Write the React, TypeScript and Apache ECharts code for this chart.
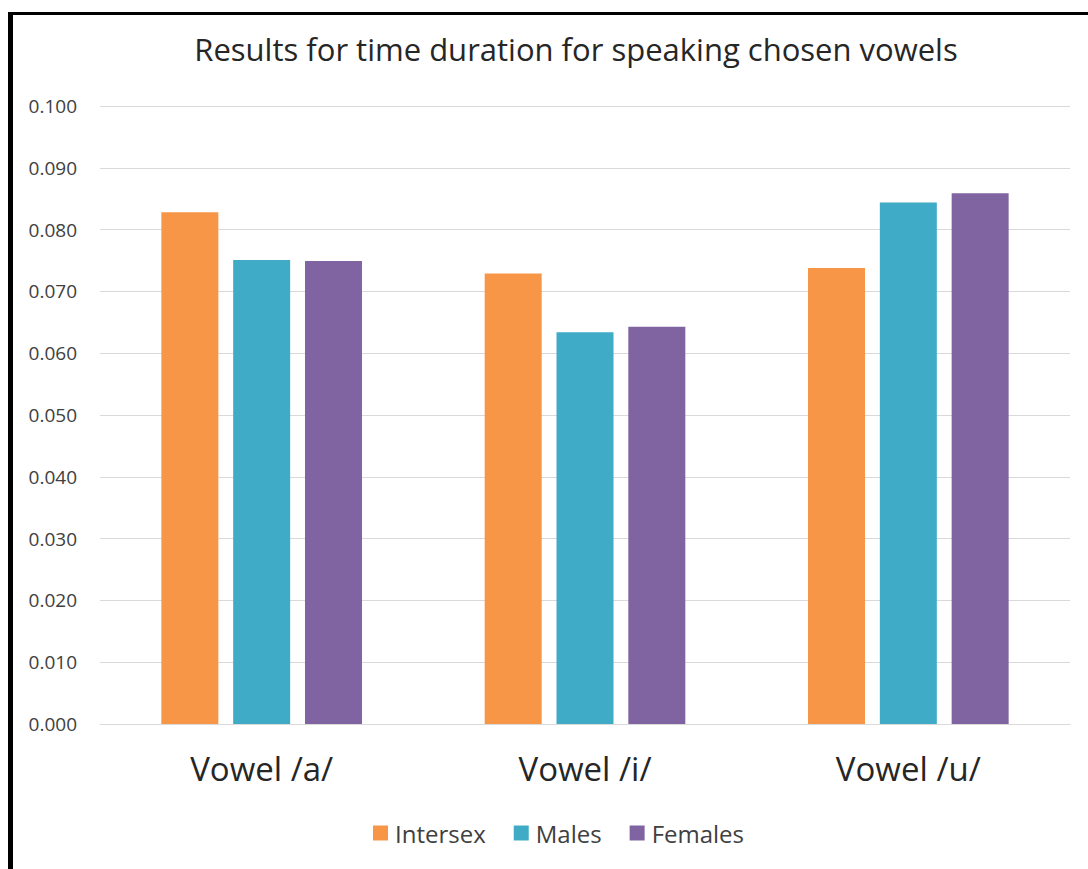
import React, { useEffect, useRef } from "react";
import * as echarts from "echarts";

const categories = ["Vowel /a/", "Vowel /i/", "Vowel /u/"];
const intersex = [0.0828, 0.0729, 0.0738];
const males = [0.0751, 0.0634, 0.0844];
const females = [0.0749, 0.0643, 0.0859];
const seriesNames = ["Intersex", "Males", "Females"];
const colors = ["#F79646", "#40ABC7", "#8064A2"];

export default function App() {
  const ref = useRef<HTMLDivElement>(null);
  useEffect(() => {
    if (!ref.current) return;
    const chart = echarts.init(ref.current, undefined, { renderer: "svg" });
    const font = "Open Sans";
    const data = [intersex, males, females];
    chart.setOption({
      animation: false,
      backgroundColor: "#ffffff",
      title: {
        text: "Results for time duration for speaking chosen vowels",
        left: 576,
        top: 33,
        padding: 0,
        textAlign: "center",
        textStyle: { fontFamily: font, fontSize: 31, fontWeight: "normal", color: "#262626" },
      },
      legend: {
        left: 373,
        top: 821,
        padding: 0,
        itemWidth: 15,
        itemHeight: 15,
        itemGap: 28,
        icon: "rect",
        textStyle: { fontFamily: font, fontSize: 24, color: "#404040", padding: [0, 0, 0, 2] },
        data: seriesNames,
      },
      grid: { left: 100, right: 18, top: 106, bottom: 145, containLabel: false },
      xAxis: {
        type: "category",
        data: categories,
        axisLine: { show: true, lineStyle: { color: "#d9d9d9", width: 1 } },
        axisTick: { show: false },
        axisLabel: { fontFamily: font, fontSize: 33, color: "#262626", margin: 28 },
      },
      yAxis: {
        type: "value",
        min: 0,
        max: 0.1,
        interval: 0.01,
        axisLine: { show: false },
        axisTick: { show: false },
        splitLine: { lineStyle: { color: "#d9d9d9", width: 1 } },
        axisLabel: {
          fontFamily: font,
          fontSize: 19,
          color: "#404040",
          margin: 23,
          formatter: (v: number) => v.toFixed(3),
        },
      },
      series: seriesNames.map((name, i) => ({
        name,
        type: "bar",
        data: data[i],
        barWidth: 57,
        barGap: "26%",
        itemStyle: { color: colors[i] },
      })),
      graphic: [
        { type: "rect", shape: { x: 8, y: 12, width: 5, height: 857 }, style: { fill: "#000" } },
        { type: "rect", shape: { x: 8, y: 12, width: 1080, height: 3 }, style: { fill: "#000" } },
      ],
    });
    return () => chart.dispose();
  }, []);
  return (
    <div
      ref={ref}
      style={{ position: "absolute", left: 0, top: 0, width: 1088, height: 869 }}
    />
  );
}
